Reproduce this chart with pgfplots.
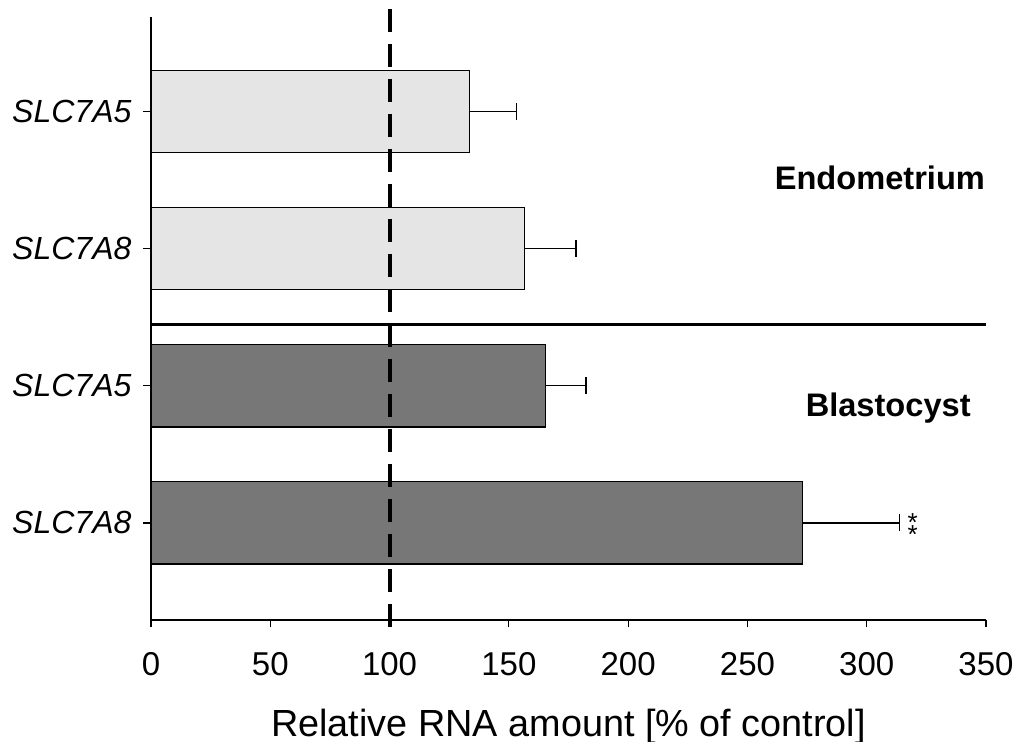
\documentclass[border=0pt]{standalone}
\usepackage{pgfplots}
\pgfplotsset{compat=1.18}
\usepackage{fontspec}
\setmainfont{Liberation Sans}
\definecolor{endo}{HTML}{E5E5E5}
\definecolor{blasto}{HTML}{777777}

% pos = bar row (4 = top), val = mean, err = upper error
\pgfplotstableread{
pos val err
4 133.5 19.8
3 156.4 21.7
}\endotable
\pgfplotstableread{
pos val err
2 165.2 17.1
1 273.2 40.7
}\blastotable

\begin{document}
\begin{tikzpicture}
\begin{axis}[
    scale only axis,
    width=417.5pt, height=301.5pt,
    xmin=0, xmax=350, ymin=0.292, ymax=4.69,
    axis x line*=bottom, axis y line*=left,
    axis line style={line width=0.6pt, -},
    tick align=outside, major tick length=3.75pt,
    tick style={black, line width=0.6pt},
    xtick={0,50,...,350},
    ytick={1,2,3,4},
    yticklabels={SLC7A8,SLC7A5,SLC7A8,SLC7A5},
    /pgf/number format/assume math mode=true,
    xticklabel style={font=\fontsize{16.5}{20}\selectfont, yshift=-9pt},
    yticklabel style={font=\fontsize{16}{19}\selectfont\itshape, xshift=-2.5pt},
    xlabel={Relative RNA amount [\% of control]},
    xlabel style={font=\fontsize{18.9}{22}\selectfont, at={(axis description cs:0.5,0)}, anchor=base, yshift=-58.5pt},
    bar width=0.6, bar shift=0pt,
    clip=false,
]
\addplot[xbar, fill=endo, draw=black, line width=0.6pt,
    error bars/.cd, x dir=plus, x explicit, error mark=|,
    error bar style={line width=0.6pt, black},
    error mark options={black, line width=0.6pt, mark size=4.25pt}]
    table[x=val, y=pos, x error=err] {\endotable};
\addplot[xbar, fill=blasto, draw=black, line width=0.6pt,
    error bars/.cd, x dir=plus, x explicit, error mark=|,
    error bar style={line width=0.6pt, black},
    error mark options={black, line width=0.6pt, mark size=4.25pt}]
    table[x=val, y=pos, x error=err] {\blastotable};
% separator between the two groups
\addplot[black, line width=1.5pt, forget plot] coordinates {(0,2.445) (350,2.445)};
% control level
\addplot[black, line width=2pt, dash pattern=on 11.5pt off 6pt, forget plot]
    coordinates {(100,4.75) (100,0.2)};
\node[font=\fontsize{16.3}{18}\selectfont\bfseries] at (axis cs:305.5,3.52) {Endometrium};
\node[font=\fontsize{16.3}{18}\selectfont\bfseries] at (axis cs:309,1.84) {Blastocyst};
\node[font=\fontsize{13}{15.6}\selectfont, inner sep=0pt, align=center] at (axis cs:319.3,0.96) {*\\[-9.6pt]*};
\coordinate (sw) at (rel axis cs:0,0);
\coordinate (ne) at (rel axis cs:1,1);
\end{axis}
\pgfresetboundingbox
\path ([xshift=-75.5pt,yshift=-61pt]sw) rectangle ([xshift=15pt,yshift=8.5pt]ne);
\end{tikzpicture}
\end{document}
